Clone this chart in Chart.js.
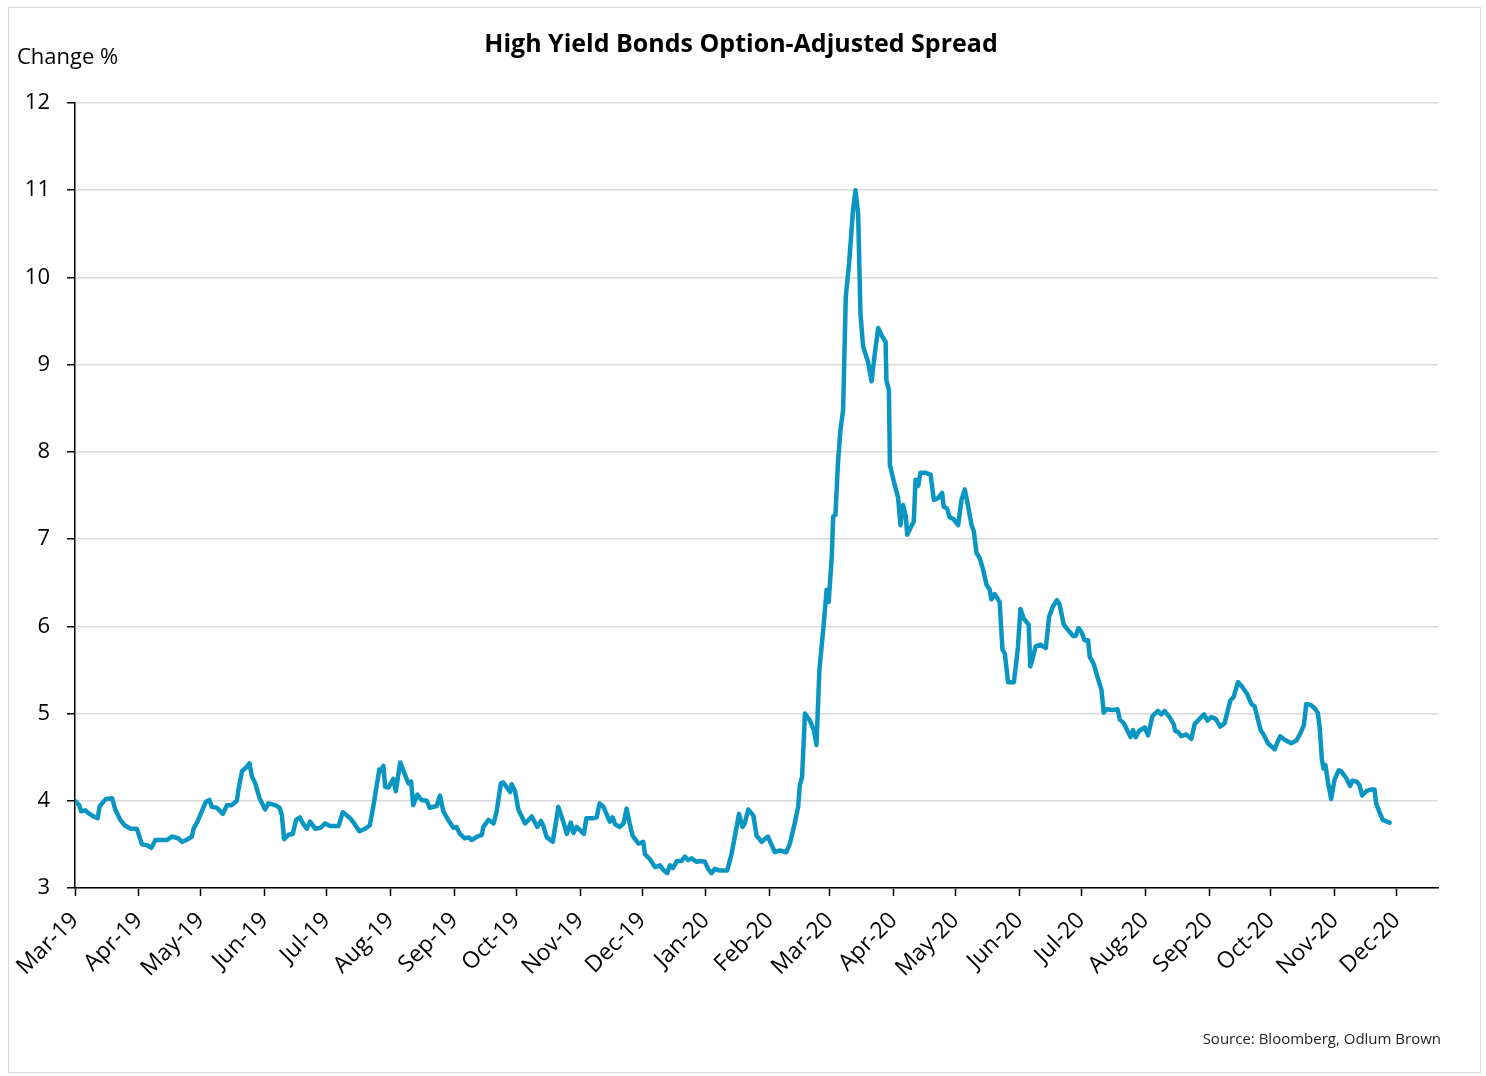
<!DOCTYPE html>
<html>
<head>
<meta charset="utf-8">
<title>High Yield Bonds Option-Adjusted Spread</title>
<script src="https://cdn.jsdelivr.net/npm/chart.js@4.4.1/dist/chart.umd.min.js"></script>
<style>
  html, body { margin: 0; padding: 0; background: #fff; }
  #wrap { position: relative; width: 1486px; height: 1076px; }
  #frame { position: absolute; left: 8px; top: 7px; width: 1473px; height: 1066px; border: 1px solid #d9d9d9; box-sizing: border-box; }
  #chartSpread { position: absolute; left: 0; top: 0; }
</style>
</head>
<body>
<div id="wrap">
  <div id="frame"></div>
  <canvas id="chartSpread" width="1486" height="1076"></canvas>
</div>
<script>
/**************************************
 * 1. DATA
 **************************************/

// days since 1 Mar 2019
const dayOffsets = [
  0, 2, 3, 5, 7, 9, 11, 12, 15, 18, 19.5, 22, 24, 27, 30, 32.5, 35, 37, 39, 44.6,
  47, 50, 52, 54, 56.7, 57.5, 59.4, 61.5, 63.5, 65.2, 66.4, 68.8, 71.7, 73.7, 76, 78.5, 79.3, 81, 83.4, 84.6,
  85.8, 87.4, 89.5, 92.2, 93.8, 97, 99.2, 100.3, 101.4, 103.5, 105.6, 107.2, 109, 110.5, 112.4, 114, 116.5, 119, 121.3, 123.7,
  127.8, 129.9, 133.4, 135.4, 137.9, 140.7, 143, 144.7, 147.6, 148.3, 149.6, 150.4, 152, 154.4, 155.6, 157.7, 160, 161.7, 163, 164,
  166, 168, 170.6, 172, 175.4, 177, 178.6, 181, 183.5, 185, 186.7, 189, 191, 192.4, 195, 197.3, 198, 200.5, 203, 204.5,
  206.5, 207.7, 211, 211.8, 213.4, 215, 218.3, 221.5, 224.2, 226, 227, 228.8, 231.7, 234.4, 236.8, 238.5, 240.4, 241.7, 243.3, 246.8,
  248, 251.3, 253, 254.4, 256.3, 259.3, 260.7, 262, 264, 266, 267.5, 269, 270.4, 273.2, 275.6, 276.4, 278.8, 281.3, 283.7, 285.6,
  287.2, 288.5, 290, 292, 294.2, 295.8, 297.4, 299, 301.5, 303, 305.5, 307, 308.7, 310.3, 312.7, 316.3, 318.4, 320, 322, 323.7,
  324.8, 326.5, 329, 330.5, 333, 336, 339.4, 341.8, 345, 346.7, 349, 350.7, 351.5, 352.6, 354, 356.4, 358.3, 359.6, 361, 363,
  364.5, 365.5, 367, 367.7, 368.8, 370, 371.2, 372.5, 373.8, 375.4, 377.3, 378.5, 379.8, 380.9, 382.2, 384.6, 386.3, 387.9, 389.5, 391.1,
  393.1, 393.5, 394.7, 395.2, 397.1, 399.2, 400.3, 401.6, 402.9, 403.6, 405.2, 406.8, 407.6, 408.9, 410, 412.6, 414.9, 416.5, 418.6, 420.5,
  421.3, 422.9, 424.2, 426, 428.3, 429.9, 431.5, 433.1, 434.8, 435.9, 437.2, 438.8, 440.4, 442, 443.6, 444.4, 446, 448.4, 449.8, 450.9,
  452.5, 455.3, 456.6, 457.3, 458.5, 460.1, 462.5, 463.3, 464.6, 465.9, 468.2, 470.8, 472.4, 474.3, 476.2, 477.5, 479.5, 481.5, 484, 485.3,
  486.7, 488, 489.6, 491.3, 492.1, 494, 496.1, 497.8, 498.9, 500.2, 503.4, 505.6, 506.7, 508.6, 510.7, 511.9, 513.1, 514.4, 516, 518.8,
  520.4, 522.5, 525.2, 526.8, 528.4, 530.8, 532.8, 533.6, 534.9, 536.5, 538.9, 541.4, 543, 545.4, 547.5, 549.2, 551.1, 553.2, 555.4, 557.5,
  560.3, 561.9, 564, 565.6, 568.3, 570.5, 572.1, 575, 576.4, 578.5, 581.8, 583.3, 584.5, 586.6, 589.8, 592.3, 594.2, 596, 597.1, 599.1,
  601.2, 602.7, 603.6, 604.7, 605.5, 606.4, 607.6, 609.2, 610.8, 612.9, 614, 616.5, 618.4, 619.4, 621.6, 622.9, 624.2, 626.2, 628.6, 630.2,
  631, 632.6, 634.2, 637.5
];

// spread, %
const spreadValues = [
  4.00, 3.95, 3.88, 3.89, 3.85, 3.82, 3.80, 3.94, 4.02, 4.03, 3.90, 3.78, 3.72, 3.68, 3.68, 3.50, 3.49, 3.46, 3.55, 3.55,
  3.59, 3.57, 3.53, 3.55, 3.59, 3.68, 3.76, 3.88, 3.99, 4.01, 3.93, 3.92, 3.85, 3.95, 3.95, 4.00, 4.13, 4.34, 4.39, 4.43,
  4.28, 4.20, 4.03, 3.90, 3.97, 3.95, 3.92, 3.84, 3.56, 3.61, 3.62, 3.78, 3.81, 3.74, 3.68, 3.76, 3.68, 3.69, 3.74, 3.71,
  3.71, 3.87, 3.80, 3.74, 3.65, 3.68, 3.72, 3.94, 4.36, 4.34, 4.40, 4.16, 4.15, 4.25, 4.11, 4.44, 4.30, 4.20, 4.22, 3.95,
  4.07, 4.01, 4.00, 3.92, 3.94, 4.06, 3.88, 3.78, 3.69, 3.70, 3.62, 3.57, 3.58, 3.55, 3.59, 3.61, 3.70, 3.78, 3.74, 3.88,
  4.20, 4.21, 4.10, 4.19, 4.11, 3.90, 3.74, 3.82, 3.70, 3.77, 3.72, 3.58, 3.53, 3.93, 3.76, 3.62, 3.75, 3.63, 3.70, 3.62,
  3.80, 3.80, 3.81, 3.97, 3.93, 3.76, 3.81, 3.73, 3.70, 3.74, 3.91, 3.74, 3.60, 3.51, 3.53, 3.39, 3.33, 3.24, 3.26, 3.20,
  3.17, 3.26, 3.23, 3.31, 3.31, 3.36, 3.32, 3.34, 3.30, 3.31, 3.30, 3.22, 3.17, 3.22, 3.20, 3.20, 3.39, 3.59, 3.85, 3.70,
  3.74, 3.90, 3.83, 3.60, 3.53, 3.59, 3.41, 3.43, 3.41, 3.51, 3.74, 3.93, 4.18, 4.27, 5.00, 4.92, 4.81, 4.64, 5.50, 6.00,
  6.42, 6.28, 6.80, 7.26, 7.28, 7.87, 8.25, 8.48, 9.78, 10.16, 10.77, 11.00, 10.73, 9.59, 9.21, 9.03, 8.81, 9.13, 9.42, 9.34,
  9.26, 8.82, 8.71, 7.85, 7.66, 7.47, 7.16, 7.39, 7.26, 7.05, 7.13, 7.20, 7.68, 7.61, 7.76, 7.76, 7.74, 7.45, 7.47, 7.53,
  7.37, 7.35, 7.25, 7.23, 7.16, 7.45, 7.57, 7.38, 7.16, 7.09, 6.84, 6.78, 6.65, 6.48, 6.42, 6.31, 6.37, 6.28, 5.73, 5.69,
  5.36, 5.36, 5.61, 5.77, 6.20, 6.09, 6.02, 5.54, 5.65, 5.77, 5.79, 5.75, 6.11, 6.23, 6.30, 6.25, 6.02, 5.96, 5.89, 5.89,
  5.98, 5.94, 5.84, 5.84, 5.65, 5.57, 5.40, 5.27, 5.01, 5.05, 5.04, 5.05, 4.93, 4.89, 4.79, 4.73, 4.81, 4.73, 4.80, 4.84,
  4.75, 4.97, 5.03, 4.99, 5.03, 4.96, 4.88, 4.80, 4.79, 4.74, 4.76, 4.71, 4.88, 4.94, 4.99, 4.92, 4.96, 4.94, 4.85, 4.89,
  5.15, 5.19, 5.36, 5.32, 5.23, 5.11, 5.08, 4.81, 4.76, 4.66, 4.59, 4.68, 4.74, 4.70, 4.66, 4.69, 4.77, 4.87, 5.11, 5.10,
  5.06, 5.01, 4.85, 4.47, 4.37, 4.41, 4.22, 4.02, 4.24, 4.35, 4.34, 4.26, 4.17, 4.23, 4.22, 4.18, 4.06, 4.11, 4.13, 4.13,
  3.97, 3.87, 3.78, 3.75
];

// first day of each month, days since 1 Mar 2019
const monthTickDays = [0, 31, 61, 92, 122, 153, 184, 214, 245, 275, 306, 337, 366, 397, 427, 458, 488, 519, 550, 580, 611, 641];
const monthTickLabels = ["Mar-19", "Apr-19", "May-19", "Jun-19", "Jul-19", "Aug-19", "Sep-19", "Oct-19", "Nov-19", "Dec-19", "Jan-20",
  "Feb-20", "Mar-20", "Apr-20", "May-20", "Jun-20", "Jul-20", "Aug-20", "Sep-20", "Oct-20", "Nov-20", "Dec-20"];

const yTicks = [3, 4, 5, 6, 7, 8, 9, 10, 11, 12];

/**************************************
 * 2. TEXTS (title, unit, source)
 **************************************/

const textosPlugin = {
  id: "textos",
  afterDraw(chart) {
    const ctx = chart.ctx;
    ctx.save();
    ctx.fillStyle = "#000";
    ctx.textBaseline = "alphabetic";

    ctx.font = "bold 25px 'Open Sans'";
    ctx.textAlign = "center";
    ctx.fillText("High Yield Bonds Option-Adjusted Spread", 741, 52);

    ctx.font = "22px 'Open Sans'";
    ctx.textAlign = "left";
    ctx.fillText("Change %", 17, 64);

    ctx.font = "15px 'Open Sans'";
    ctx.textAlign = "right";
    ctx.fillStyle = "#222";
    ctx.fillText("Source: Bloomberg, Odlum Brown", 1441, 1044);
    ctx.restore();
  }
};

/**************************************
 * 3. CHART
 **************************************/

const puntos = dayOffsets.map((d, i) => ({ x: d, y: spreadValues[i] }));

new Chart(document.getElementById("chartSpread"), {
  type: "line",
  data: {
    datasets: [{
      label: "HY OAS",
      data: puntos,
      borderColor: "#0A96C2",
      borderWidth: 4.5,
      borderJoinStyle: "round",
      borderCapStyle: "round",
      pointRadius: 0,
      tension: 0,
      fill: false
    }]
  },
  options: {
    responsive: false,
    animation: false,
    layout: { padding: { left: 0, top: 103, right: 48, bottom: 0 } },
    plugins: {
      legend: { display: false },
      tooltip: { enabled: false }
    },
    scales: {
      x: {
        type: "linear",
        min: 0,
        max: 661,
        afterBuildTicks: scale => { scale.ticks = monthTickDays.map(v => ({ value: v })); },
        afterFit: scale => { scale.height = 188; },
        border: { color: "#000", width: 1.5 },
        grid: { drawOnChartArea: false, drawTicks: true, tickLength: 8, tickColor: "#000", tickWidth: 1.5 },
        ticks: {
          autoSkip: false,
          minRotation: 45,
          maxRotation: 45,
          padding: 11,
          color: "#000",
          font: { family: "'Open Sans'", size: 23 },
          callback: value => {
            const i = monthTickDays.indexOf(value);
            return i >= 0 ? monthTickLabels[i] : "";
          }
        }
      },
      y: {
        min: 3,
        max: 12,
        afterBuildTicks: scale => { scale.ticks = yTicks.map(v => ({ value: v })); },
        afterFit: scale => { scale.width = 75; },
        border: { color: "#000", width: 1.5 },
        grid: { color: "#d9d9d9", lineWidth: 1.5, tickLength: 8, tickColor: "#000", tickWidth: 1.5 },
        ticks: {
          padding: 17,
          color: "#000",
          font: { family: "'Open Sans'", size: 22 }
        }
      }
    }
  },
  plugins: [textosPlugin]
});
</script>
</body>
</html>
